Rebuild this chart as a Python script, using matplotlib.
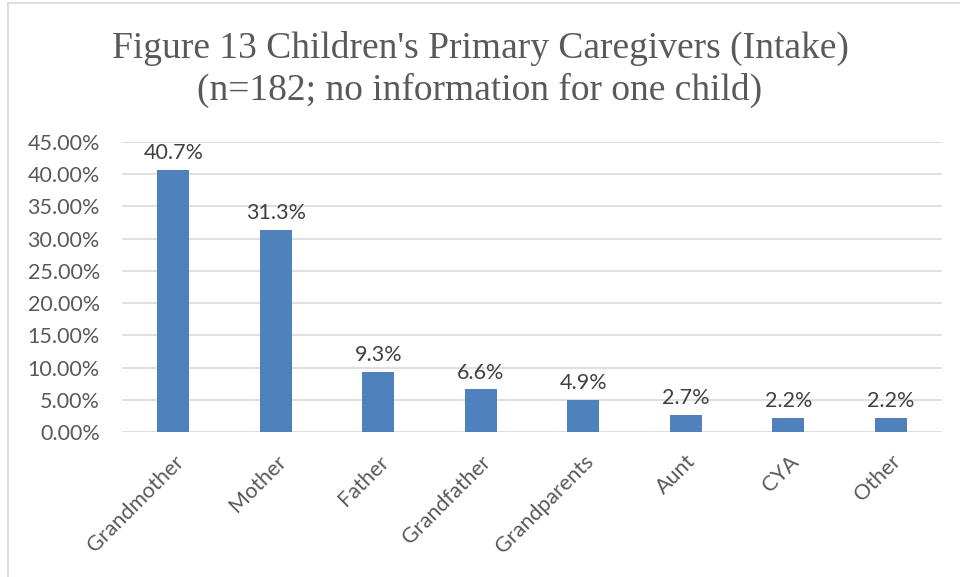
import matplotlib
matplotlib.use("Agg")
import matplotlib.pyplot as plt
from matplotlib.lines import Line2D
from matplotlib.ticker import FuncFormatter, MultipleLocator

# data
caregivers = ["Grandmother", "Mother", "Father", "Grandfather",
              "Grandparents", "Aunt", "CYA", "Other"]
shares = [40.7, 31.3, 9.3, 6.6, 4.9, 2.7, 2.2, 2.2]
bar_labels = ["40.7%", "31.3%", "9.3%", "6.6%", "4.9%", "2.7%", "2.2%", "2.2%"]

W, H = 960, 577
fig = plt.figure(figsize=(W / 100, H / 100), dpi=100)
ax = fig.add_axes([122 / W, 1 - 432 / H, (942 - 122) / W, (432 - 142) / H])

x = range(len(caregivers))
ax.bar(x, shares, width=0.31, color="#4F81BD", zorder=3)
for i, (v, lab) in enumerate(zip(shares, bar_labels)):
    ax.annotate(lab, (i, v), xytext=(0, 5), textcoords="offset points",
                ha="center", va="bottom", fontsize=15.5, color="#404040",
                family="Lato", zorder=4)

ax.set_xlim(-0.5, len(caregivers) - 0.5)
ax.set_ylim(0, 45)
ax.yaxis.set_major_locator(MultipleLocator(5))
ax.yaxis.set_major_formatter(FuncFormatter(lambda v, p: f"{v:.2f}%"))
ax.grid(axis="y", color="#D9D9D9", linewidth=1.2, zorder=0)
ax.set_xticks(list(x))
ax.set_xticklabels(caregivers, rotation=45, ha="right", rotation_mode="anchor")
for s in ax.spines.values():
    s.set_visible(False)
ax.tick_params(length=0, labelsize=15.5, labelcolor="#595959")
ax.tick_params(axis="y", pad=16)
ax.tick_params(axis="x", pad=14)
for t in ax.get_xticklabels() + ax.get_yticklabels():
    t.set_family("Lato")

fig.text(0.5, 1 - 48 / H, "Figure 13 Children's Primary Caregivers (Intake)",
         ha="center", va="center", fontsize=27, color="#595959",
         family="Liberation Serif")
fig.text(0.5, 1 - 90 / H, "(n=182; no information for one child)",
         ha="center", va="center", fontsize=27, color="#595959",
         family="Liberation Serif")

# chart area border (top and left visible)
fig.add_artist(Line2D([8 / W, 1], [1 - 3 / H, 1 - 3 / H], color="#D9D9D9", lw=1.2))
fig.add_artist(Line2D([8 / W, 8 / W], [0, 1 - 3 / H], color="#D9D9D9", lw=1.2))

fig.savefig("out.png", dpi=100)
